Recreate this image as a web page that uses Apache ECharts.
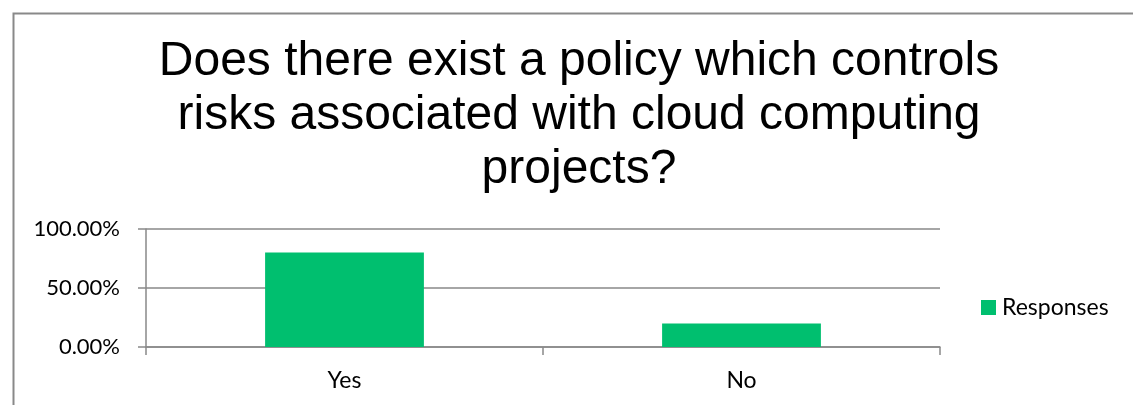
<!DOCTYPE html>
<html>
<head>
<meta charset="utf-8">
<script src="https://cdn.jsdelivr.net/npm/echarts@6/dist/echarts.min.js"></script>
<style>html,body{margin:0;padding:0;background:#fff;}#c{width:1133px;height:405px;}</style>
</head>
<body>
<div id="c"></div>
<script>
const titleText = 'Does there exist a policy which controls\nrisks associated with cloud computing\nprojects?';
const categories = ['Yes', 'No'];
const seriesName = 'Responses';
const values = [0.80, 0.20];
const yTicks = [0, 0.5, 1];

const chart = echarts.init(document.getElementById('c'), null, {renderer: 'canvas'});
const grey = '#898989';
const labelFont = 'Lato, "Open Sans", sans-serif';
chart.setOption({
  animation: false,
  backgroundColor: '#fff',
  graphic: [
    {type: 'rect', left: 11, top: 11, shape: {width: 1300, height: 600}, style: {fill: 'none', stroke: grey, lineWidth: 2}},
    {type: 'text', x: 579, y: 35, style: {text: titleText, textAlign: 'center', fill: '#000', font: '48px "Liberation Sans", Arial, sans-serif', lineHeight: 54}}
  ],
  grid: {left: 146, right: 193, top: 229, bottom: 58, containLabel: false},
  legend: {
    left: 976, top: 291, itemWidth: 15, itemHeight: 15, itemGap: 10, icon: 'rect',
    textStyle: {fontFamily: labelFont, fontSize: 23, color: '#000', padding: [0, 0, 0, 1]},
    data: [seriesName]
  },
  xAxis: {
    type: 'category', data: categories,
    axisLine: {lineStyle: {color: grey, width: 1.5}},
    axisTick: {show: true, length: 8, alignWithLabel: false, lineStyle: {color: grey, width: 1.5}},
    axisLabel: {fontFamily: labelFont, fontSize: 23, color: '#000', margin: 22}
  },
  yAxis: {
    type: 'value', min: yTicks[0], max: yTicks[yTicks.length - 1], interval: yTicks[1] - yTicks[0],
    axisLine: {show: true, lineStyle: {color: grey, width: 1.5}},
    axisTick: {show: true, length: 8, lineStyle: {color: grey, width: 1.5}},
    splitLine: {lineStyle: {color: grey, width: 1.5}},
    axisLabel: {fontFamily: labelFont, fontSize: 22, color: '#000', margin: 26,
      formatter: v => (v * 100).toFixed(2) + '%'}
  },
  series: [{
    name: seriesName, type: 'bar', data: values, barWidth: '40%',
    itemStyle: {color: '#00bf6f'}
  }]
});
</script>
</body>
</html>
